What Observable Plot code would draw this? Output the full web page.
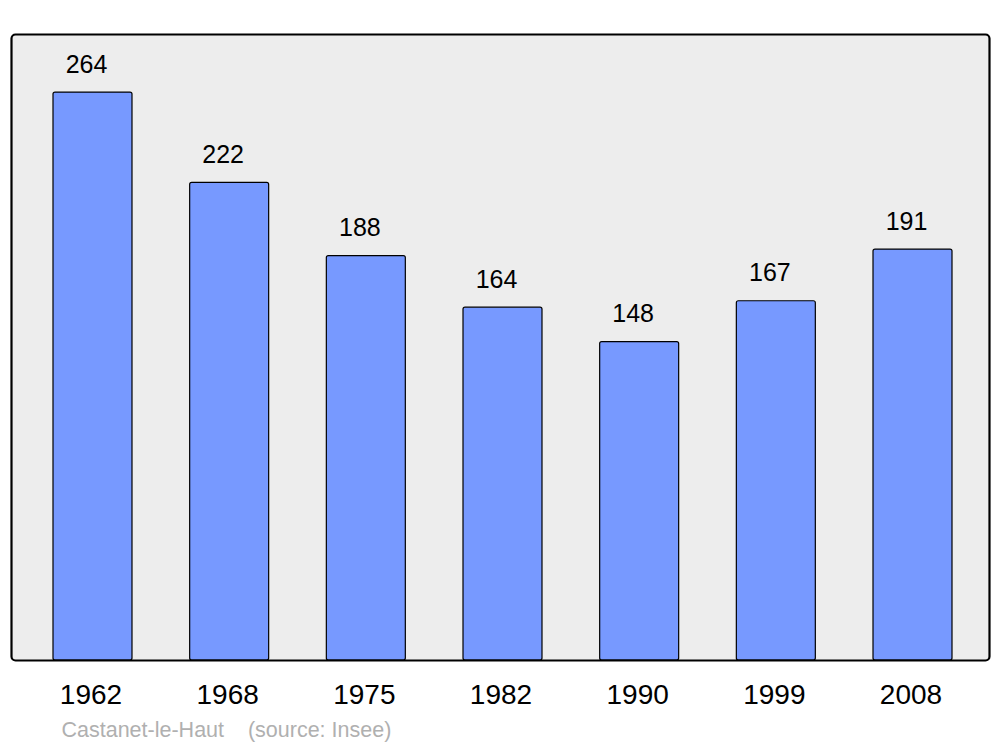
<!DOCTYPE html>
<html>
<head>
<meta charset="utf-8">
<script src="https://cdn.jsdelivr.net/npm/d3@7"></script>
<script src="https://cdn.jsdelivr.net/npm/@observablehq/plot@0.6"></script>
<style>
  html, body { margin: 0; padding: 0; background: #fff; }
  #chart svg { display: block; }
</style>
</head>
<body>
<div id="chart"></div>
<script>
const years = ["1962", "1968", "1975", "1982", "1990", "1999", "2008"];
const population = [264, 222, 188, 164, 148, 167, 191];
const captionText = "Castanet-le-Haut\u00a0\u00a0\u00a0\u00a0(source: Insee)";

const data = years.map((year, i) => ({year, pop: population[i]}));

const font = "'Liberation Sans', Arial, sans-serif";

const chart = Plot.plot({
  width: 1000,
  height: 747,
  marginTop: 34,
  marginBottom: 87,
  marginLeft: 11,
  marginRight: 11,
  style: {fontFamily: font, background: "#fff"},
  x: {domain: years, range: [53, 952], paddingInner: 0.422, paddingOuter: 0, round: false, axis: null},
  y: {domain: [0, 291], axis: null},
  marks: [
    Plot.frame({fill: "#ededed", stroke: null, rx: 4}),
    Plot.barY(data, {x: "year", y: "pop", fill: "#7799ff", stroke: "#000", strokeWidth: 1.2, rx: 2}),
    Plot.frame({fill: "none", stroke: "#000", strokeWidth: 2.2, rx: 4}),
    Plot.text(data, {x: "year", y: "pop", text: d => String(d.pop), dy: -28, dx: -6.5, fontSize: 25, fill: "#000", lineAnchor: "middle"}),
    Plot.text(data, {x: "year", text: "year", frameAnchor: "bottom", dy: 35, dx: -2, fontSize: 28, fill: "#000", lineAnchor: "middle"}),
    Plot.text([captionText], {text: d => d, frameAnchor: "bottom-left", dx: 50, dy: 70, fontSize: 21.5, fill: "#b0b0b0", textAnchor: "start", lineAnchor: "middle"})
  ]
});

document.getElementById("chart").appendChild(chart);
</script>
</body>
</html>
